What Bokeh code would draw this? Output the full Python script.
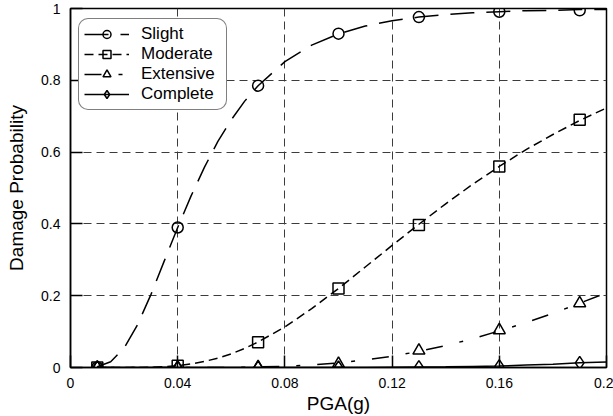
from bokeh.plotting import figure
from bokeh.models import Range1d, FixedTicker, Legend, LegendItem
from bokeh.embed import file_html
from bokeh.resources import INLINE

# fragility curves
pga_curve = [0.01, 0.015, 0.02, 0.025, 0.03, 0.035, 0.04, 0.045, 0.05, 0.055, 0.06, 0.065,
             0.07, 0.08, 0.09, 0.10, 0.11, 0.12, 0.13, 0.14, 0.15, 0.16, 0.17, 0.18, 0.19, 0.20]
slight_curve = [0.002, 0.016, 0.054, 0.119, 0.203, 0.297, 0.39, 0.478, 0.558, 0.630, 0.690, 0.742,
                0.785, 0.852, 0.898, 0.929, 0.951, 0.966, 0.976, 0.983, 0.988, 0.991, 0.994, 0.995, 0.997, 0.997]
moderate_curve = [0.0, 0.0, 0.0, 0.0002, 0.0008, 0.002, 0.005, 0.010, 0.017, 0.026, 0.038, 0.053,
                  0.071, 0.113, 0.164, 0.22, 0.280, 0.340, 0.399, 0.456, 0.510, 0.56, 0.607, 0.649, 0.688, 0.723]
extensive_curve = [0.0, 0.0, 0.0, 0.0, 0.0, 0.0, 0.0, 0.0, 0.0001, 0.0002, 0.0005, 0.0009,
                   0.0015, 0.0035, 0.007, 0.013, 0.021, 0.031, 0.045, 0.061, 0.080, 0.102, 0.125, 0.151, 0.179, 0.208]
complete_curve = [0.0, 0.0, 0.0, 0.0, 0.0, 0.0, 0.0, 0.0, 0.0, 0.0, 0.0, 0.0,
                  0.0, 0.0, 0.0, 0.0, 0.0003, 0.0006, 0.0012, 0.002, 0.003, 0.004, 0.007, 0.009, 0.013, 0.015]

# marker points
pga_pts = [0.01, 0.04, 0.07, 0.10, 0.13, 0.16, 0.19]
slight_pts = [0.0, 0.39, 0.785, 0.93, 0.976, 0.991, 0.995]
moderate_pts = [0.0, 0.005, 0.07, 0.22, 0.397, 0.56, 0.69]
extensive_pts = [0.0, 0.0, 0.001, 0.01, 0.047, 0.104, 0.179]
complete_pts = [0.0, 0.0, 0.0, 0.0, 0.001, 0.004, 0.013]

series_names = ["Slight", "Moderate", "Extensive", "Complete"]

x_ticks = [0, 0.04, 0.08, 0.12, 0.16, 0.2]
x_tick_labels = ["0", "0.04", "0.08", "0.12", "0.16", "0.2"]
y_ticks = [0, 0.2, 0.4, 0.6, 0.8, 1]
y_tick_labels = ["0", "0.2", "0.4", "0.6", "0.8", "1"]

FONT = "Liberation Sans"

p = figure(width=613, height=416, x_range=Range1d(0, 0.2), y_range=Range1d(0, 1),
           output_backend="svg", toolbar_location=None,
           min_border_left=70, min_border_right=7, min_border_top=8, min_border_bottom=49)

p.outline_line_color = "black"
p.outline_line_width = 1.5

for ax, ticks, labels in ((p.xaxis, x_ticks, x_tick_labels), (p.yaxis, y_ticks, y_tick_labels)):
    ax.ticker = FixedTicker(ticks=ticks)
    ax.major_label_overrides = dict(zip(ticks, labels))
    ax.major_tick_in = 12
    ax.major_tick_out = 0
    ax.minor_tick_line_color = None
    ax.major_tick_line_width = 1.5
    ax.major_tick_line_color = "black"
    ax.axis_line_width = 1.5
    ax.axis_line_color = "black"
    ax.major_label_text_font = FONT
    ax.major_label_text_font_size = "14px"
    ax.major_label_text_color = "black"
    ax.axis_label_text_font = FONT
    ax.axis_label_text_font_size = "19px"
    ax.axis_label_text_font_style = "normal"
    ax.axis_label_text_color = "black"

p.xaxis.axis_label = "PGA(g)"
p.yaxis.axis_label = "Damage Probability"
p.xaxis.major_label_standoff = 10
p.yaxis.major_label_standoff = 10
p.xaxis.axis_label_standoff = 2
p.yaxis.axis_label_standoff = 11

p.xgrid.ticker = FixedTicker(ticks=x_ticks[1:-1])
p.ygrid.ticker = FixedTicker(ticks=y_ticks[1:-1])
for g in (p.xgrid, p.ygrid):
    g.grid_line_color = "#3c3c3c"
    g.grid_line_dash = "8 5"
    g.grid_line_width = 1

curves = [slight_curve, moderate_curve, extensive_curve, complete_curve]
points = [slight_pts, moderate_pts, extensive_pts, complete_pts]
dashes = ["24 12", "9 5", "17 17 4 17", "solid"]
markers = ["circle", "square", "triangle", "diamond"]
sizes = [11, 11, 12, 13]

items = []
for name, cv, pts, dash, mk, sz in zip(series_names, curves, points, dashes, markers, sizes):
    r_line = p.line(pga_curve, cv, line_color="black", line_width=1.5, line_dash=dash)
    r_pts = p.scatter(pga_pts, pts, marker=mk, size=sz, fill_color=None,
                      line_color="black", line_width=1.5)
    items.append(LegendItem(label=name, renderers=[r_line, r_pts]))

legend = Legend(items=items, location=(8, 257))
legend.label_text_font = FONT
legend.label_text_font_size = "17px"
legend.label_text_color = "black"
legend.glyph_width = 45
legend.glyph_height = 20
legend.label_height = 20
legend.label_width = 80
legend.spacing = 0
legend.padding = 5
legend.margin = 0
legend.label_standoff = 12
legend.border_line_color = "black"
legend.border_line_width = 1
legend.background_fill_color = "white"
legend.background_fill_alpha = 1
try:
    legend.border_radius = 10
except Exception:
    pass
p.add_layout(legend, "center")

open("out.html", "w").write(file_html(p, INLINE))
